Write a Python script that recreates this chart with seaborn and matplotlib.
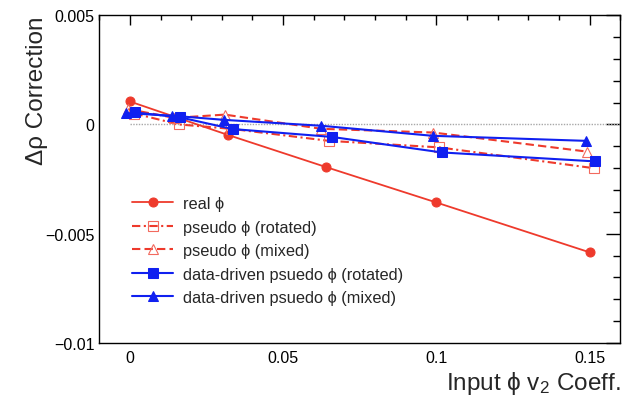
import numpy as np
import pandas as pd
import matplotlib
matplotlib.use("Agg")
import matplotlib.pyplot as plt
from matplotlib.ticker import MultipleLocator, FixedLocator, FuncFormatter
import seaborn as sns

# ---- data ----
real_x = [0.0, 0.032, 0.064, 0.100, 0.150]
real_y = [0.00105, -0.00048, -0.00195, -0.00357, -0.00585]

prot_x = [0.0015, 0.0160, 0.0330, 0.0649, 0.1010, 0.1513]
prot_y = [0.00050, 0.00000, -0.00020, -0.00075, -0.00105, -0.00200]

pmix_x = [-0.0005, 0.0145, 0.0310, 0.0625, 0.0990, 0.1490]
pmix_y = [0.00070, 0.00030, 0.00045, -0.00020, -0.00037, -0.00124]

drot_x = [0.0017, 0.0165, 0.0335, 0.0659, 0.1017, 0.1517]
drot_y = [0.00055, 0.00032, -0.00021, -0.00057, -0.00128, -0.00169]

dmix_x = [-0.0013, 0.0138, 0.0307, 0.0624, 0.0988, 0.1487]
dmix_y = [0.00052, 0.00040, 0.00021, -0.00006, -0.00052, -0.00075]

labels = ["real ϕ", "pseudo ϕ (rotated)", "pseudo ϕ (mixed)",
          "data-driven psuedo ϕ (rotated)", "data-driven psuedo ϕ (mixed)"]

xticks = [0.0, 0.05, 0.10, 0.15]
xtick_labels = ["0", "0.05", "0.1", "0.15"]
yticks = [-0.01, -0.005, 0.0, 0.005]
ytick_labels = ["\u22120.01", "\u22120.005", "0", "0.005"]

sns.set_theme(style="white")
plt.rcParams["font.family"] = ["Liberation Sans", "DejaVu Sans"]
plt.rcParams["mathtext.fontset"] = "custom"
plt.rcParams["mathtext.rm"] = "Liberation Sans"
plt.rcParams["mathtext.it"] = "Liberation Sans"
plt.rcParams["lines.scale_dashes"] = False

RED = "#ee3a2c"
RED_LIGHT = "#f26a5e"
BLUE = "#1020f0"

fig = plt.figure(figsize=(6.24, 4.14), dpi=100)
ax = fig.add_axes([0.159, 0.169, 0.835, 0.792])

# zero reference line
ax.plot([0.0, 0.16], [0, 0], color="#a8a8a8", lw=1.0, ls=(0, (1, 1)), zorder=1)

sns.lineplot(x=real_x, y=real_y, ax=ax, color=RED, lw=1.3, marker="o",
             markersize=6.5, markeredgecolor=RED, sort=False, estimator=None,
             label=labels[0], zorder=3)
sns.lineplot(x=prot_x, y=prot_y, ax=ax, color=RED, lw=1.5,
             linestyle=(0, (6, 2.5, 1.5, 2.5)), marker="s", markersize=7,
             markerfacecolor="none", markeredgecolor=RED_LIGHT, markeredgewidth=0.8,
             sort=False, estimator=None, label=labels[1], zorder=3)
sns.lineplot(x=pmix_x, y=pmix_y, ax=ax, color=RED, lw=1.5,
             linestyle=(0, (6, 3)), marker="^", markersize=7.5,
             markerfacecolor="none", markeredgecolor=RED_LIGHT, markeredgewidth=0.8,
             sort=False, estimator=None, label=labels[2], zorder=3)
sns.lineplot(x=drot_x, y=drot_y, ax=ax, color=BLUE, lw=1.5, marker="s",
             markersize=6.5, markeredgecolor=BLUE, sort=False, estimator=None,
             label=labels[3], zorder=4)
sns.lineplot(x=dmix_x, y=dmix_y, ax=ax, color=BLUE, lw=1.5, marker="^",
             markersize=7, markeredgecolor=BLUE, sort=False, estimator=None,
             label=labels[4], zorder=4)

ax.set_xlim(-0.01, 0.16)
ax.set_ylim(-0.01, 0.005)

ax.xaxis.set_major_locator(FixedLocator(xticks))
ax.xaxis.set_major_formatter(FuncFormatter(lambda v, p: xtick_labels[xticks.index(min(xticks, key=lambda t: abs(t - v)))]))
ax.xaxis.set_minor_locator(MultipleLocator(0.01))
ax.yaxis.set_major_locator(FixedLocator(yticks))
ax.yaxis.set_major_formatter(FuncFormatter(lambda v, p: ytick_labels[yticks.index(min(yticks, key=lambda t: abs(t - v)))]))
ax.yaxis.set_minor_locator(MultipleLocator(0.001))

ax.tick_params(axis="both", which="both", direction="in", top=True, right=True,
               colors="black", width=1.0, labelsize=11.5)
ax.tick_params(axis="x", which="major", length=7.5, pad=5)
ax.tick_params(axis="x", which="minor", length=3.8)
ax.tick_params(axis="y", which="major", length=10)
ax.tick_params(axis="y", which="minor", length=5, pad=3)
for s in ax.spines.values():
    s.set_color("black")
    s.set_linewidth(1.0)
    s.set_visible(True)

ax.set_xlabel("Input ϕ v$_{2}$ Coeff.", fontsize=17.5, loc="right", labelpad=3)
ax.set_ylabel("Δρ Correction", fontsize=17.5, loc="top")
ax.yaxis.set_label_coords(-0.098, 1.0)

leg = ax.legend(loc="upper left", bbox_to_anchor=(0.063, 0.448), frameon=False,
                fontsize=11.8, handlelength=2.5, handletextpad=0.6,
                labelspacing=0.52, borderpad=0, borderaxespad=0)

fig.savefig("out.png", dpi=100)
